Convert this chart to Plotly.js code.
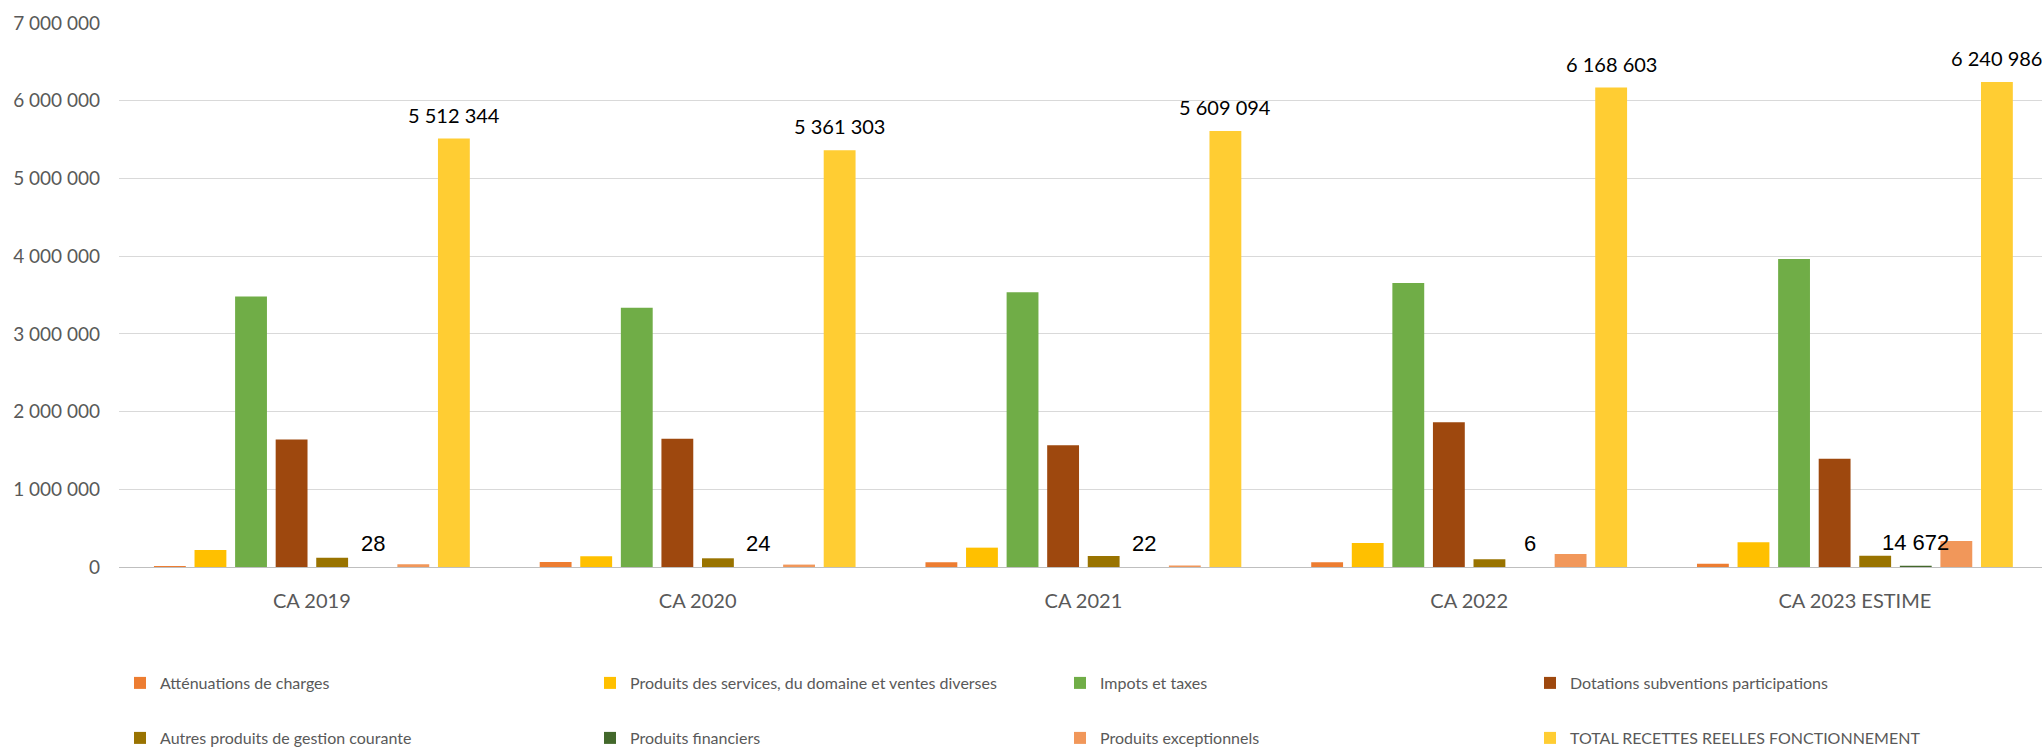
<!DOCTYPE html>
<html>
<head>
<meta charset="utf-8">
<script src="https://cdn.plot.ly/plotly-3.0.1.min.js"></script>
<style>
html,body{margin:0;padding:0;background:#fff;}
#chart{width:2042px;height:747px;}
</style>
</head>
<body>
<div id="chart"></div>
<script>
// Categories
const categories = ["CA 2019", "CA 2020", "CA 2021", "CA 2022", "CA 2023 ESTIME"];

// Series values
const attenuations   = [12000, 65000, 60000, 60000, 43000];
const produitsServ   = [220000, 138000, 249000, 309000, 318000];
const impots         = [3480000, 3335000, 3535000, 3655000, 3964000];
const dotations      = [1640000, 1650000, 1566000, 1862000, 1394000];
const autresProduits = [118000, 112000, 142000, 99000, 146000];
const financiers     = [28, 24, 22, 6, 14672];
const exceptionnels  = [35000, 31000, 18000, 167000, 335000];
const total          = [5512344, 5361303, 5609094, 6168603, 6240986];

// Series names
const seriesNames = [
  "Atténuations de charges",
  "Produits des services, du domaine et ventes diverses",
  "Impots et taxes",
  "Dotations subventions participations",
  "Autres produits de gestion courante",
  "Produits financiers",
  "Produits exceptionnels",
  "TOTAL RECETTES REELLES FONCTIONNEMENT"
];
const seriesValues = [attenuations, produitsServ, impots, dotations, autresProduits, financiers, exceptionnels, total];
const seriesColors = ["#ED7D31", "#FFC000", "#70AD47", "#9E480E", "#997300", "#43682B", "#F1975A", "#FFCD33"];
const labelled = [false, false, false, false, false, true, false, true];

const traces = seriesValues.map((vals, i) => ({
  type: "bar",
  name: seriesNames[i],
  x: categories,
  y: vals,
  marker: {color: seriesColors[i]},
  legend: i < 4 ? "legend" : "legend2",
  hoverinfo: "none"
}));

// Layout geometry
const W = 2042, H = 747;
const margin = {l: 119, r: 0, t: 23, b: 180};
const xRange = [-0.5, 4.485];
const bargap = 0.1586, bargroupgap = 0.215;
const catPx = (W - margin.l - margin.r) / (xRange[1] - xRange[0]);
const slotPx = catPx * (1 - bargap) / seriesValues.length;

// Data labels as annotations (drawn on top of all bars)
const fmt = v => String(v).replace(/\B(?=(\d{3})+(?!\d))/g, " ");
const annotations = [];
seriesValues.forEach((vals, i) => {
  if (!labelled[i]) return;
  const isTotal = i === 7;
  vals.forEach((v, k) => {
    annotations.push({
      x: categories[k],
      y: v,
      xref: "x",
      yref: "y",
      text: fmt(v),
      showarrow: false,
      xanchor: "center",
      yanchor: "bottom",
      xshift: (i - (seriesValues.length - 1) / 2) * slotPx,
      yshift: isTotal ? 10 : 9,
      font: isTotal
        ? {family: "Lato, sans-serif", size: 20, color: "#000000"}
        : {family: "Liberation Sans, Arial, sans-serif", size: 22, color: "#000000"}
    });
  });
});

const legendCommon = {
  orientation: "h",
  xref: "container",
  yref: "container",
  xanchor: "left",
  yanchor: "middle",
  entrywidth: 425,
  entrywidthmode: "pixels",
  itemwidth: 30,
  font: {family: "Lato, sans-serif", size: 16, color: "#595959"},
  bgcolor: "rgba(0,0,0,0)",
  traceorder: "normal"
};

const layout = {
  width: W,
  height: H,
  margin: margin,
  paper_bgcolor: "#ffffff",
  plot_bgcolor: "#ffffff",
  separators: ", ",
  barmode: "group",
  bargap: bargap,
  bargroupgap: bargroupgap,
  showlegend: true,
  annotations: annotations,
  xaxis: {
    type: "category",
    range: xRange,
    showgrid: false,
    showline: true,
    linecolor: "#BFBFBF",
    linewidth: 1,
    ticks: "",
    ticklabelstandoff: 16,
    tickfont: {family: "Lato, sans-serif", size: 20, color: "#595959"}
  },
  yaxis: {
    range: [0, 7000000],
    dtick: 1000000,
    tick0: 0,
    tickformat: ",d",
    showgrid: true,
    gridcolor: "#D9D9D9",
    gridwidth: 1,
    zeroline: false,
    showline: false,
    ticks: "",
    ticklabelstandoff: 18,
    tickfont: {family: "Lato, sans-serif", size: 19, color: "#595959"}
  },
  legend: Object.assign({}, legendCommon, {x: 120 / W, y: 1 - 683 / H}),
  legend2: Object.assign({}, legendCommon, {x: 120 / W, y: 1 - 738 / H})
};

Plotly.newPlot("chart", traces, layout, {displayModeBar: false, staticPlot: true});
</script>
</body>
</html>
